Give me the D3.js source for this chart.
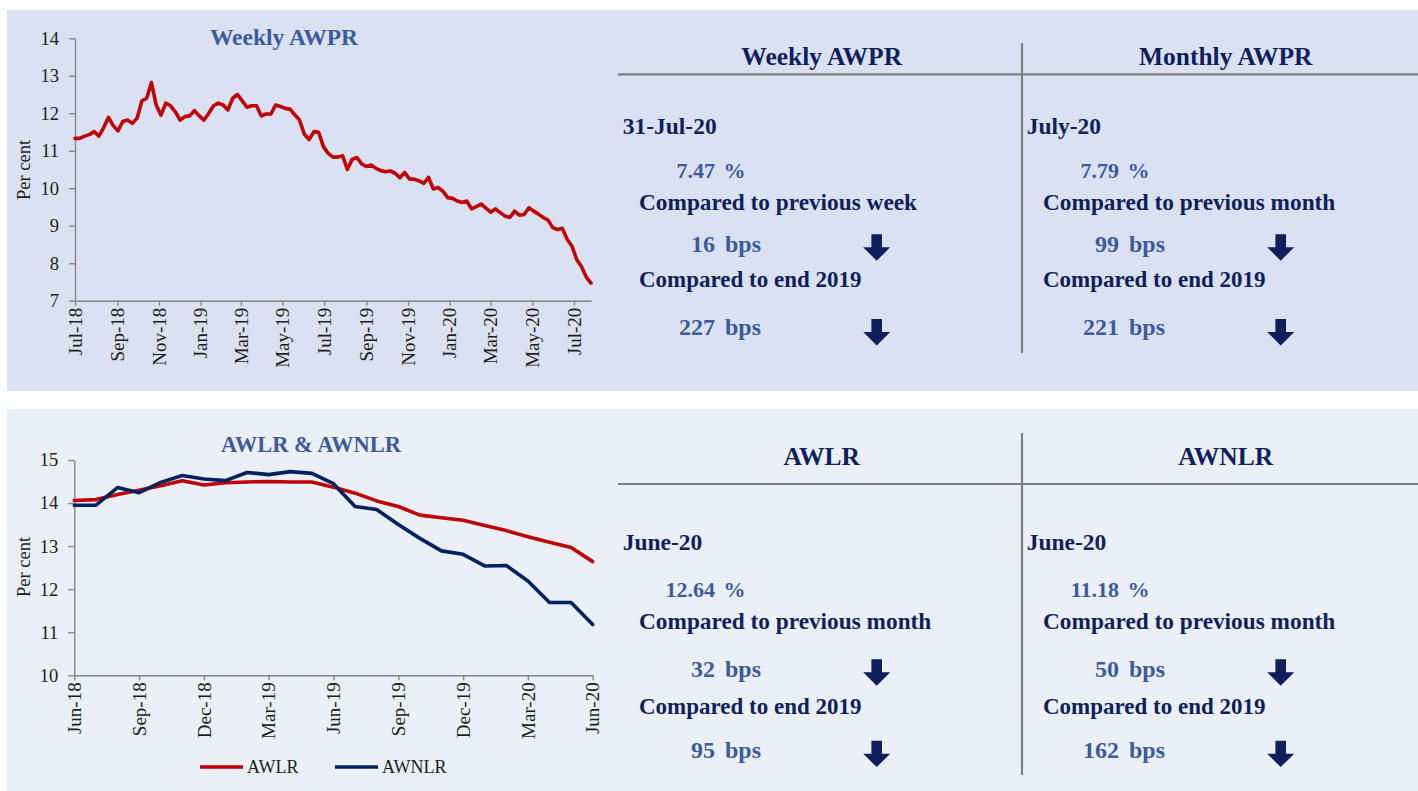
<!DOCTYPE html>
<html><head><meta charset="utf-8">
<script src="https://cdn.jsdelivr.net/npm/d3@7"></script>
<style>
body{margin:0;background:#ffffff;}
svg{display:block;}
text{font-family:"Liberation Serif","Times New Roman",serif;}
</style></head>
<body>
<svg id="c" width="1418" height="791"></svg>
<script>
// ---------------- DATA ----------------
const weeklyStart = "2018-07-06";   // first Friday of the weekly series
const weeklyEnd = "2020-07-31";
const weeklyAWPR = [
 11.33, 11.33, 11.39, 11.43, 11.51, 11.39, 11.62, 11.89, 11.67, 11.53,
 11.78, 11.82, 11.73, 11.87, 12.33, 12.40, 12.82, 12.22, 11.95, 12.27,
 12.20, 12.04, 11.82, 11.91, 11.93, 12.07, 11.93, 11.82, 12.00, 12.20,
 12.27, 12.22, 12.09, 12.40, 12.50, 12.33, 12.16, 12.20, 12.20, 11.93,
 11.98, 11.98, 12.22, 12.18, 12.13, 12.11, 11.96, 11.82, 11.44, 11.30,
 11.51, 11.49, 11.11, 10.93, 10.83, 10.83, 10.87, 10.50, 10.77, 10.82,
 10.65, 10.58, 10.62, 10.53, 10.47, 10.44, 10.46, 10.40, 10.28, 10.42,
 10.25, 10.24, 10.20, 10.13, 10.29, 9.98, 10.02, 9.92, 9.75, 9.73,
 9.66, 9.62, 9.66, 9.45, 9.51, 9.58, 9.47, 9.36, 9.45, 9.35,
 9.26, 9.22, 9.39, 9.28, 9.30, 9.48, 9.39, 9.31, 9.22, 9.15,
 8.95, 8.90, 8.93, 8.64, 8.46, 8.10, 7.91, 7.63, 7.47];
const weeklyTickLabels = ["Jul-18","Sep-18","Nov-18","Jan-19","Mar-19","May-19","Jul-19",
 "Sep-19","Nov-19","Jan-20","Mar-20","May-20","Jul-20"];
const weeklyYTicks = [7, 8, 9, 10, 11, 12, 13, 14];

const months = ["Jun-18","Jul-18","Aug-18","Sep-18","Oct-18","Nov-18","Dec-18","Jan-19","Feb-19",
 "Mar-19","Apr-19","May-19","Jun-19","Jul-19","Aug-19","Sep-19","Oct-19","Nov-19","Dec-19",
 "Jan-20","Feb-20","Mar-20","Apr-20","May-20","Jun-20"];
const awlr = [14.06, 14.08, 14.20, 14.30, 14.40, 14.52, 14.42, 14.47, 14.49, 14.50, 14.49, 14.49,
 14.37, 14.23, 14.05, 13.92, 13.72, 13.66, 13.60, 13.48, 13.36, 13.22, 13.09, 12.97, 12.64];
const awnlr = [13.95, 13.95, 14.36, 14.24, 14.48, 14.64, 14.56, 14.52, 14.71, 14.66, 14.73, 14.69,
 14.45, 13.92, 13.85, 13.50, 13.18, 12.89, 12.81, 12.54, 12.55, 12.19, 11.69, 11.69, 11.18];
const monthlyTickLabels = ["Jun-18","Sep-18","Dec-18","Mar-19","Jun-19","Sep-19","Dec-19","Mar-20","Jun-20"];
const monthlyYTicks = [10, 11, 12, 13, 14, 15];
const seriesNames = ["AWLR", "AWNLR"];

const panelHeaders = ["Weekly AWPR", "Monthly AWPR", "AWLR", "AWNLR"];
const panelDates = ["31-Jul-20", "July-20", "June-20", "June-20"];
const panelRates = ["7.47", "7.79", "12.64", "11.18"];
const panelCmp1 = ["Compared to previous week", "Compared to previous month",
                   "Compared to previous month", "Compared to previous month"];
const panelCmp2 = ["Compared to end 2019", "Compared to end 2019", "Compared to end 2019", "Compared to end 2019"];
const panelBps1 = ["16", "99", "32", "50"];
const panelBps2 = ["227", "221", "95", "162"];

// ---------------- STYLE ----------------
const NAVY = "#0f1f5c", MIDBLUE = "#3d5b9b", RED = "#c00000", DARKBLUE = "#002060";
const AXIS = "#868686", TXT = "#1c1c1c";

const svg = d3.select("#c");
svg.append("rect").attr("x", 7).attr("y", 10).attr("width", 1411).attr("height", 381).attr("fill", "#dae1f2");
svg.append("rect").attr("x", 7).attr("y", 409).attr("width", 1411).attr("height", 382).attr("fill", "#eaeff8");

function styleAxis(g) {
  g.select(".domain").attr("stroke", AXIS).attr("stroke-width", 1.4);
  g.selectAll(".tick line").attr("stroke", AXIS).attr("stroke-width", 1.4);
  g.selectAll(".tick text").attr("fill", TXT).style("font-size", "18.5px")
    .style("font-family", '"Liberation Serif", serif');
}

// ---------------- TOP CHART ----------------
const parse = d3.timeParse("%Y-%m-%d");
const wStart = parse(weeklyStart), wEnd = parse(weeklyEnd);
const weeklyData = weeklyAWPR.map((v, i) => ({ date: d3.timeWeek.offset(wStart, i), v }));
const xW = d3.scaleTime().domain([wStart, wEnd]).range([75, 591]);
const yW = d3.scaleLinear().domain([7, 14]).range([300.7, 38.3]);

const gxW = svg.append("g").attr("transform", "translate(0,300.7)")
  .call(d3.axisBottom(xW)
    .tickValues(weeklyTickLabels.map((_, k) => d3.timeMonth.offset(wStart, 2 * k)))
    .tickFormat((d, k) => weeklyTickLabels[k]).tickSize(5).tickSizeOuter(0));
styleAxis(gxW);
gxW.selectAll(".tick text").attr("transform", "rotate(-90)").attr("text-anchor", "end")
  .attr("x", -7).attr("y", 0).attr("dy", "0.33em").style("font-size", "19px");

const gyW = svg.append("g").attr("transform", "translate(75,0)")
  .call(d3.axisLeft(yW).tickValues(weeklyYTicks).tickFormat(d3.format("d"))
    .tickSize(6).tickPadding(10).tickSizeOuter(0));
styleAxis(gyW);

svg.append("path").datum(weeklyData)
  .attr("fill", "none").attr("stroke", RED).attr("stroke-width", 3.6)
  .attr("stroke-linejoin", "round").attr("stroke-linecap", "round")
  .attr("d", d3.line().x(d => xW(d.date)).y(d => yW(d.v)));

svg.append("text").attr("x", 284).attr("y", 45).attr("text-anchor", "middle")
  .attr("fill", MIDBLUE).style("font-size", "23.5px").style("font-weight", "bold").text("Weekly AWPR");
svg.append("text").attr("transform", "translate(30,170) rotate(-90)").attr("text-anchor", "middle")
  .attr("fill", TXT).style("font-size", "18.5px").text("Per cent");

// ---------------- BOTTOM CHART ----------------
const xM = d3.scalePoint().domain(months).range([74.3, 592.7]);
const yM = d3.scaleLinear().domain([10, 15]).range([675.3, 460]);

const gxM = svg.append("g").attr("transform", "translate(0,675.3)")
  .call(d3.axisBottom(xM).tickValues(monthlyTickLabels).tickSize(5).tickSizeOuter(0));
styleAxis(gxM);
gxM.selectAll(".tick text").attr("transform", "rotate(-90)").attr("text-anchor", "end")
  .attr("x", -7).attr("y", 0).attr("dy", "0.33em").style("font-size", "19px");

const gyM = svg.append("g").attr("transform", "translate(74.3,0)")
  .call(d3.axisLeft(yM).tickValues(monthlyYTicks).tickFormat(d3.format("d"))
    .tickSize(6).tickPadding(10).tickSizeOuter(0));
styleAxis(gyM);

const lineM = d3.line().x((d, i) => xM(months[i])).y(d => yM(d));
[[awlr, RED], [awnlr, DARKBLUE]].forEach(([arr, col]) => {
  svg.append("path").datum(arr).attr("fill", "none").attr("stroke", col).attr("stroke-width", 3.6)
    .attr("stroke-linejoin", "round").attr("stroke-linecap", "round").attr("d", lineM);
});

svg.append("text").attr("x", 311).attr("y", 452).attr("text-anchor", "middle")
  .attr("fill", MIDBLUE).style("font-size", "22.5px").style("font-weight", "bold").text("AWLR & AWNLR");
svg.append("text").attr("transform", "translate(30,567) rotate(-90)").attr("text-anchor", "middle")
  .attr("fill", TXT).style("font-size", "18.5px").text("Per cent");

// legend
const legX = [200, 335], legCol = [RED, DARKBLUE];
seriesNames.forEach((n, i) => {
  svg.append("line").attr("x1", legX[i]).attr("x2", legX[i] + 43).attr("y1", 767).attr("y2", 767)
    .attr("stroke", legCol[i]).attr("stroke-width", 3.6);
  svg.append("text").attr("x", legX[i] + 47).attr("y", 773).attr("fill", TXT)
    .style("font-size", "18px").text(n);
});

// ---------------- TEXT PANELS ----------------
function arrow(cx, ty) {
  return `M${cx - 5.3},${ty} H${cx + 5.3} V${ty + 13} H${cx + 13.5} L${cx},${ty + 26.4} L${cx - 13.5},${ty + 13} H${cx - 5.3} Z`;
}
const blocks = [
  { ys: [65, 134, 177.7, 210, 251.7, 287.3, 335], arrows: [234.3, 319], hLine: 74.3, vLine: [43, 353] },
  { ys: [465, 550, 597.3, 629.3, 676.7, 714.3, 757.7], arrows: [659.3, 740.7], hLine: 484, vLine: [433, 775] }
];
const colOff = [0, 404];
blocks.forEach((b, bi) => {
  svg.append("line").attr("x1", 618).attr("x2", 1418).attr("y1", b.hLine).attr("y2", b.hLine)
    .attr("stroke", "#7f7f7f").attr("stroke-width", 2.2);
  svg.append("line").attr("x1", 1022).attr("x2", 1022).attr("y1", b.vLine[0]).attr("y2", b.vLine[1])
    .attr("stroke", "#7f7f7f").attr("stroke-width", 2.2);
  colOff.forEach((dx, ci) => {
    const k = bi * 2 + ci;
    const g = svg.append("g").attr("transform", `translate(${dx},0)`).style("font-weight", "bold");
    g.append("text").attr("x", 821.7).attr("y", b.ys[0]).attr("text-anchor", "middle")
      .attr("fill", NAVY).style("font-size", "25.5px").text(panelHeaders[k]);
    g.append("text").attr("x", 622.7).attr("y", b.ys[1]).attr("fill", NAVY)
      .style("font-size", "23.5px").text(panelDates[k]);
    g.append("text").attr("x", 715).attr("y", b.ys[2]).attr("text-anchor", "end").attr("fill", MIDBLUE)
      .style("font-size", "22px").text(panelRates[k]);
    g.append("text").attr("x", 723.5).attr("y", b.ys[2]).attr("fill", MIDBLUE)
      .style("font-size", "22px").text("%");
    g.append("text").attr("x", 639).attr("y", b.ys[3]).attr("fill", NAVY)
      .style("font-size", "23.3px").text(panelCmp1[k]);
    [[panelBps1[k], b.ys[4]], [panelBps2[k], b.ys[6]]].forEach(([num, y]) => {
      g.append("text").attr("x", 715).attr("y", y).attr("text-anchor", "end").attr("fill", MIDBLUE)
        .style("font-size", "24px").text(num);
      g.append("text").attr("x", 725).attr("y", y).attr("fill", MIDBLUE)
        .style("font-size", "24px").text("bps");
    });
    g.append("text").attr("x", 639).attr("y", b.ys[5]).attr("fill", NAVY)
      .style("font-size", "23px").text(panelCmp2[k]);
    b.arrows.forEach(ty => g.append("path").attr("d", arrow(876.7, ty)).attr("fill", NAVY));
  });
});
</script>
</body></html>
